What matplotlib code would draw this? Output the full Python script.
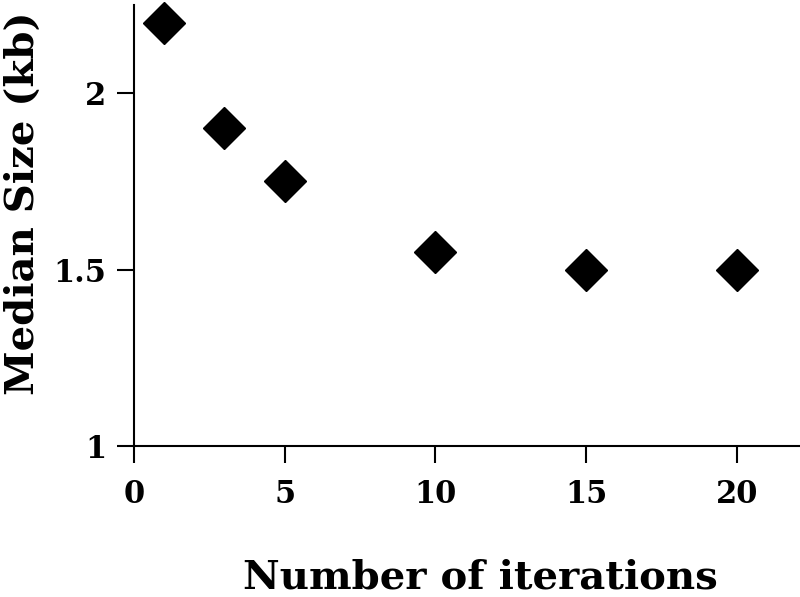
import matplotlib.pyplot as plt

iterations = [1, 3, 5, 10, 15, 20]
median_size = [2.20, 1.90, 1.75, 1.55, 1.50, 1.50]
x_ticks = [0, 5, 10, 15, 20]
y_ticks = [1, 1.5, 2]
y_tick_labels = ["1", "1.5", "2"]

plt.rcParams["font.family"] = "DejaVu Serif"
plt.rcParams["font.weight"] = "bold"

fig = plt.figure(figsize=(8, 5.97), dpi=100)
ax = fig.add_axes([0.1675, 0.2529, 0.8325, 0.7387])

ax.plot(iterations, median_size, linestyle="none", marker="D",
        markersize=21, color="black", clip_on=False)

ax.set_xlim(0, 22.1)
ax.set_ylim(1, 2.25)
ax.set_xticks(x_ticks)
ax.set_yticks(y_ticks)
ax.set_yticklabels(y_tick_labels)

for side in ("top", "right"):
    ax.spines[side].set_visible(False)
for side in ("left", "bottom"):
    ax.spines[side].set_linewidth(1.5)

ax.tick_params(axis="both", direction="out", length=12, width=1.5,
               labelsize=22)
ax.tick_params(axis="x", pad=12)
ax.tick_params(axis="y", pad=8)

ax.set_xlabel("Number of iterations", fontsize=29, fontweight="bold")
ax.set_ylabel("Median Size (kb)", fontsize=29, fontweight="bold")
ax.xaxis.set_label_coords(0.52, -0.256)
ax.yaxis.set_label_coords(-0.138, 0.55)

fig.savefig("out.png", dpi=100)
